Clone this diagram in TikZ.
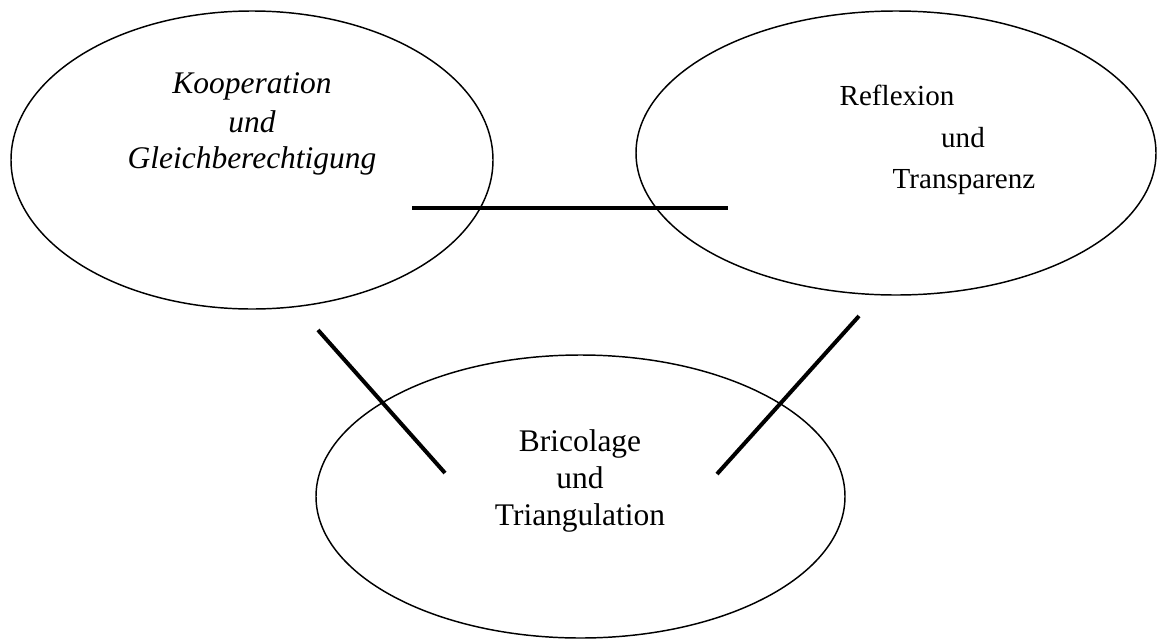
\documentclass[tikz,border=0pt]{standalone}
\usepackage{fontspec}
\setmainfont{Liberation Serif}
\usetikzlibrary{shapes.geometric}

\begin{document}
\begin{tikzpicture}[
  x=0.75pt, y=-0.75pt,
  bubble/.style = {ellipse, draw, line width=1.1pt, inner sep=0pt},
  bond/.style = {line width=3pt},
  bigtext/.style = {anchor=base, inner sep=0pt, font=\fontsize{23.6}{28}\selectfont},
  slanttext/.style = {anchor=base, inner sep=0pt, font=\fontsize{23.6}{28}\selectfont\itshape},
  smalltext/.style = {anchor=base, inner sep=0pt, font=\fontsize{21.8}{26}\selectfont}
]

% Frame
\useasboundingbox (0,0) rectangle (1157,640);

% Ellipses
\node[bubble, minimum width=361.5pt, minimum height=223.5pt] (coop) at (252,160) {};
\node[bubble, minimum width=390pt, minimum height=213pt] (refl) at (896,153) {};
\node[bubble, minimum width=396.75pt, minimum height=212.25pt] (bric) at (580.5,496.5) {};

% Texts
\node[slanttext] (coop1) at (252,93) {Kooperation};
\node[slanttext] (coop2) at (252,132) {und};
\node[slanttext] (coop3) at (252,168) {Gleichberechtigung};

\node[smalltext] (refl1) at (897,105) {Reflexion};
\node[smalltext] (refl2) at (963,147) {und};
\node[smalltext] (refl3) at (964,188) {Transparenz};

\node[bigtext] (bric1) at (580,451) {Bricolage};
\node[bigtext] (bric2) at (580,488) {und};
\node[bigtext] (bric3) at (580,525) {Triangulation};

% Connector ends
\coordinate (top1) at (412,208);
\coordinate (top2) at (728,208);
\coordinate (left1) at (318,330);
\coordinate (left2) at (445,473);
\coordinate (right1) at (859,316);
\coordinate (right2) at (717,474);

% Connectors
\draw[bond] (top1) -- (top2);
\draw[bond] (left1) -- (left2);
\draw[bond] (right1) -- (right2);

\end{tikzpicture}
\end{document}
